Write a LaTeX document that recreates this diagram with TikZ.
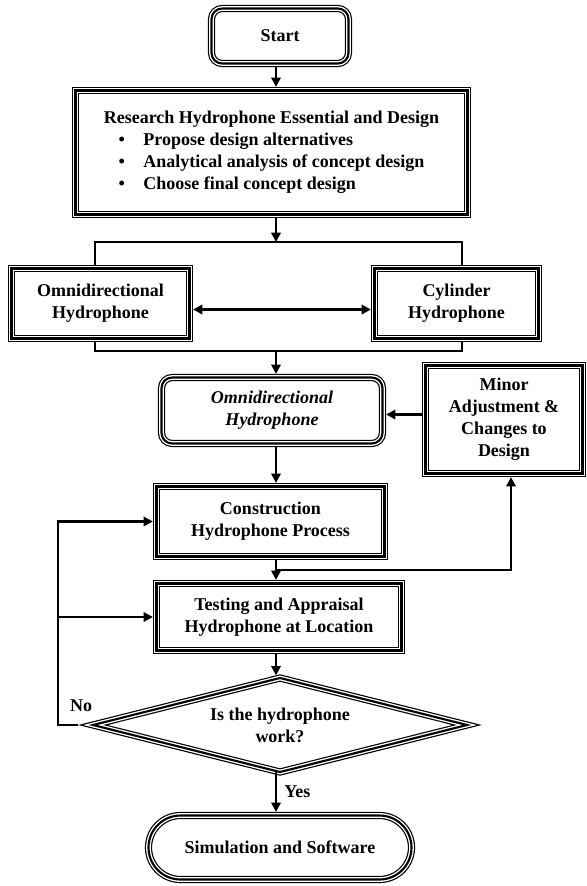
\documentclass[tikz,border=0pt]{standalone}
\usepackage{fontspec}
\setmainfont{Liberation Serif}
\usetikzlibrary{arrows.meta,shapes.geometric,shapes.misc}

\tikzset{every picture/.style={line width=0.35pt}}
\tikzset{
  tripleline/.style={draw=white, line width=3.6pt,
    preaction={draw=black, line width=5.4pt},
    postaction={draw=black, line width=1.6pt}},
  flowbox/.style={tripleline, rectangle, align=center, inner sep=0pt, outer sep=2.7pt},
  roundbox/.style={flowbox, rounded corners=8pt},
  decision/.style={tripleline, diamond, aspect=4.2, align=center, inner sep=0pt, outer sep=0pt},
  terminal/.style={tripleline, rounded rectangle, align=center, inner sep=0pt, outer sep=2.7pt},
  flowline/.style={line width=1.8pt},
}

\begin{document}
\begin{tikzpicture}[x=0.75pt,y=0.75pt,yscale=-1,
    font=\fontsize{13.5}{16.5}\selectfont\bfseries,
    >={Triangle[length=7pt,width=7pt]}]
  \useasboundingbox (0,0) rectangle (586,886);

  % boxes
  \node [roundbox, minimum width=137*0.75pt, minimum height=55*0.75pt] (start) at (280,36) {Start};
  \node [flowbox, minimum width=392*0.75pt, minimum height=124*0.75pt] (research) at (271.5,152.5)
    {\begin{tabular}{@{}c@{}}
      Research Hydrophone Essential and Design\\
      \begin{tabular}{@{}l@{}}
        \textbullet\hspace{14pt}Propose design alternatives\\
        \textbullet\hspace{14pt}Analytical analysis of concept design\\
        \textbullet\hspace{14pt}Choose final concept design
      \end{tabular}\\[12pt]
    \end{tabular}};
  \node [flowbox, minimum width=178*0.75pt, minimum height=70*0.75pt] (omni) at (100.5,303.5) {Omnidirectional\\Hydrophone};
  \node [flowbox, minimum width=164*0.75pt, minimum height=70*0.75pt] (cyl) at (456.5,303.5) {Cylinder\\Hydrophone};
  \node [roundbox, minimum width=221*0.75pt, minimum height=66*0.75pt, font=\fontsize{13.5}{16.5}\selectfont\bfseries\itshape] (omniit) at (272,410.5) {Omnidirectional\\Hydrophone};
  \node [flowbox, minimum width=157*0.75pt, minimum height=108*0.75pt] (minor) at (504,419.5) {Minor\\Adjustment \&\\Changes to\\Design};
  \node [flowbox, minimum width=228*0.75pt, minimum height=70*0.75pt] (constr) at (270.5,521.5) {Construction\\Hydrophone Process};
  \node [flowbox, minimum width=245*0.75pt, minimum height=67*0.75pt] (testing) at (279,617) {Testing and Appraisal\\Hydrophone at Location};
  \node [decision, minimum width=374*0.75pt, minimum height=94*0.75pt] (dec) at (280,725) {Is the hydrophone\\work?};
  \node [terminal, minimum width=263*0.75pt, minimum height=64*0.75pt] (term) at (280,847.5) {Simulation and Software};

  % junction points
  \coordinate (col) at (276,0);
  \coordinate (sl) at (95,242);
  \coordinate (sr) at (462,242);
  \coordinate (ml) at (95,351);
  \coordinate (mr) at (462,351);
  \coordinate (jn) at (276,570);
  \coordinate (jr) at (511,570);
  \coordinate (back) at (58,0);

  % connectors
  \draw [flowline,->] (start.south -| col) -- (research.north -| col);
  \draw [flowline,->] (research.south -| col) -- (col |- sl);
  \draw [flowline] (omni.north -| sl) -- (sl) -- (sr) -- (cyl.north -| sr);
  \draw [flowline,<->] ([yshift=4.5pt]omni.east) -- ([yshift=4.5pt]cyl.west);
  \draw [flowline] (omni.south -| ml) -- (ml) -- (mr) -- (cyl.south -| mr);
  \draw [flowline,->] (col |- ml) -- (omniit.north -| col);
  \draw [flowline,->] ([yshift=-3.75pt]minor.west) -- ([yshift=-3.75pt]minor.west -| omniit.east);
  \draw [flowline,->] (omniit.south -| col) -- (constr.north -| col);
  \draw [flowline,->] (constr.south -| col) -- (testing.north -| col);
  \draw [flowline,->] (jn) -- (jr) -- (minor.south -| jr);
  \draw [flowline,->,shorten >=2pt] (testing.south -| col) -- (dec.north -| col);
  \draw [flowline,->,shorten <=11pt] (dec.west) -- node[above=6pt, pos=0.34] {No} (dec.west -| back) |- (constr.west);
  \draw [flowline,->] (back |- testing.west) -- (testing.west);
  \draw [flowline,->] (dec.south -| col) -- node[right=2pt] {Yes} (term.north -| col);

\end{tikzpicture}
\end{document}
